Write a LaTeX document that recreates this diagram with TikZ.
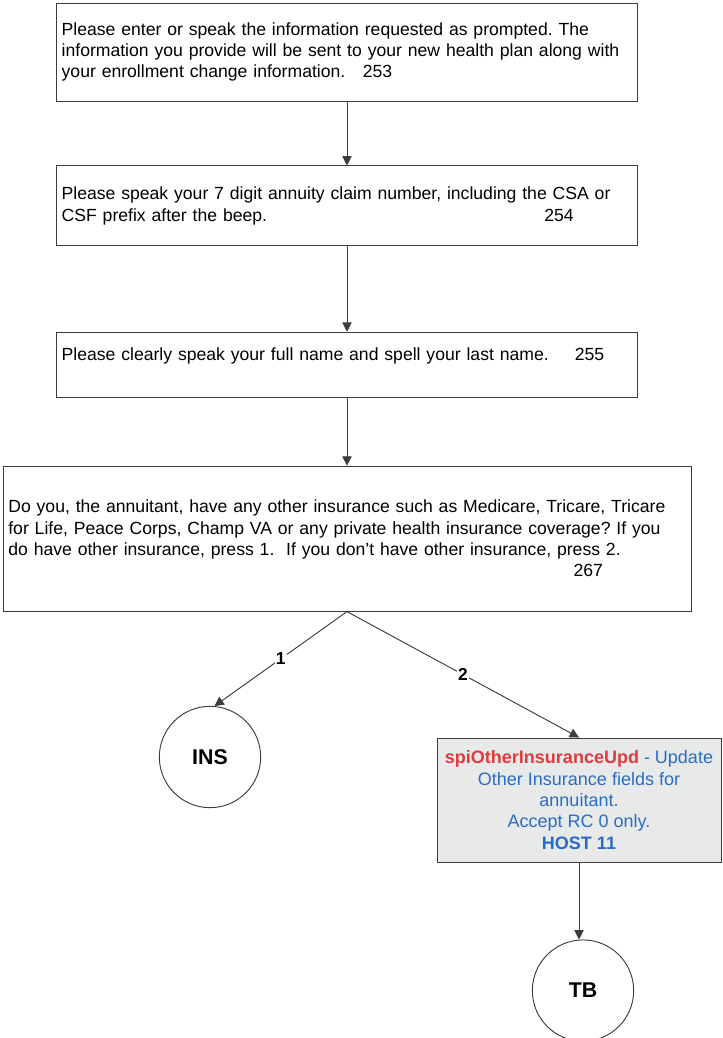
\documentclass[tikz,border=0pt]{standalone}
\usepackage{fontspec}
\setmainfont{Liberation Sans}
\usepackage{tikz}
\usetikzlibrary{positioning}
\usetikzlibrary{arrows.meta}
\definecolor{spired}{RGB}{226,58,62}
\definecolor{spiblue}{RGB}{42,108,196}
\definecolor{edgegray}{RGB}{60,60,60}
\definecolor{hostfill}{RGB}{232,234,234}
\frenchspacing

\begin{document}
\begin{tikzpicture}[
x=0.75pt, y=-0.75pt,
every node/.style={draw=edgegray, line width=0.7pt},
prompt/.style={rectangle, align=left, inner xsep=4pt, font=\fontsize{13.2}{16}\selectfont},
hostbox/.style={rectangle, fill=hostfill, align=center, inner sep=2pt, minimum width=213pt, minimum height=93pt, text=spiblue, font=\fontsize{13.5}{16}\selectfont},
exitnode/.style={circle, minimum size=76pt, inner sep=0, font=\bfseries\fontsize{16}{19}\selectfont},
choice/.style={draw=none, fill=white, inner sep=1pt, font=\bfseries\fontsize{13}{15}\selectfont},
flow/.style={draw=edgegray, line width=0.7pt, -{Triangle[length=7pt,width=7pt]}}
]
\useasboundingbox (0,0) rectangle (723,1038);
\node[prompt, text width=428pt, minimum height=73.5pt] (p253) at (347,52) {Please enter or speak the information requested as prompted. The\\ information you provide will be sent to your new health plan along with\\ your enrollment change information.\quad 253};
\node[prompt, text width=428pt, minimum height=60pt, below=48pt of p253] (p254) {Please speak your 7 digit annuity claim number, including the CSA or\\ CSF prefix after the beep.\hfill 254\hspace*{44pt}\mbox{}};
\node[prompt, text width=428pt, minimum height=48.75pt, below=64pt of p254] (p255) {Please clearly speak your full name and spell your last name.\hfill 255\hspace*{21pt}\mbox{}\\ \mbox{}};
\node[prompt, text width=508pt, minimum height=108.75pt, below=51pt of p255] (p267) {Do you, the annuitant, have any other insurance such as Medicare, Tricare, Tricare\\ for Life, Peace Corps, Champ VA or any private health insurance coverage? If you\\ do have other insurance, press 1.\ \ If you don't have other insurance, press 2.\\ \mbox{}\hfill 267\hspace*{62pt}\mbox{}};
\node[exitnode] (ins) at (210,757) {INS};
\node[hostbox] (upd) at (579,800) {\textcolor{spired}{\bfseries spiOtherInsuranceUpd} - Update\\ Other Insurance fields for\\ annuitant.\\ Accept RC 0 only.\\ \textbf{HOST 11}};
\node[exitnode, below=57.75pt of upd, xshift=3pt] (tb) {TB};
\draw[flow] (p253) -- (p254);
\draw[flow] (p254) -- (p255);
\draw[flow] (p255) -- (p267);
\draw[flow] (p267.south) -- node[choice] {1} (ins.85);
\draw[flow] (p267.south) -- node[choice] {2} (upd.north);
\draw[flow] (upd.south) -- (upd.south |- tb.north);
\end{tikzpicture}
\end{document}
